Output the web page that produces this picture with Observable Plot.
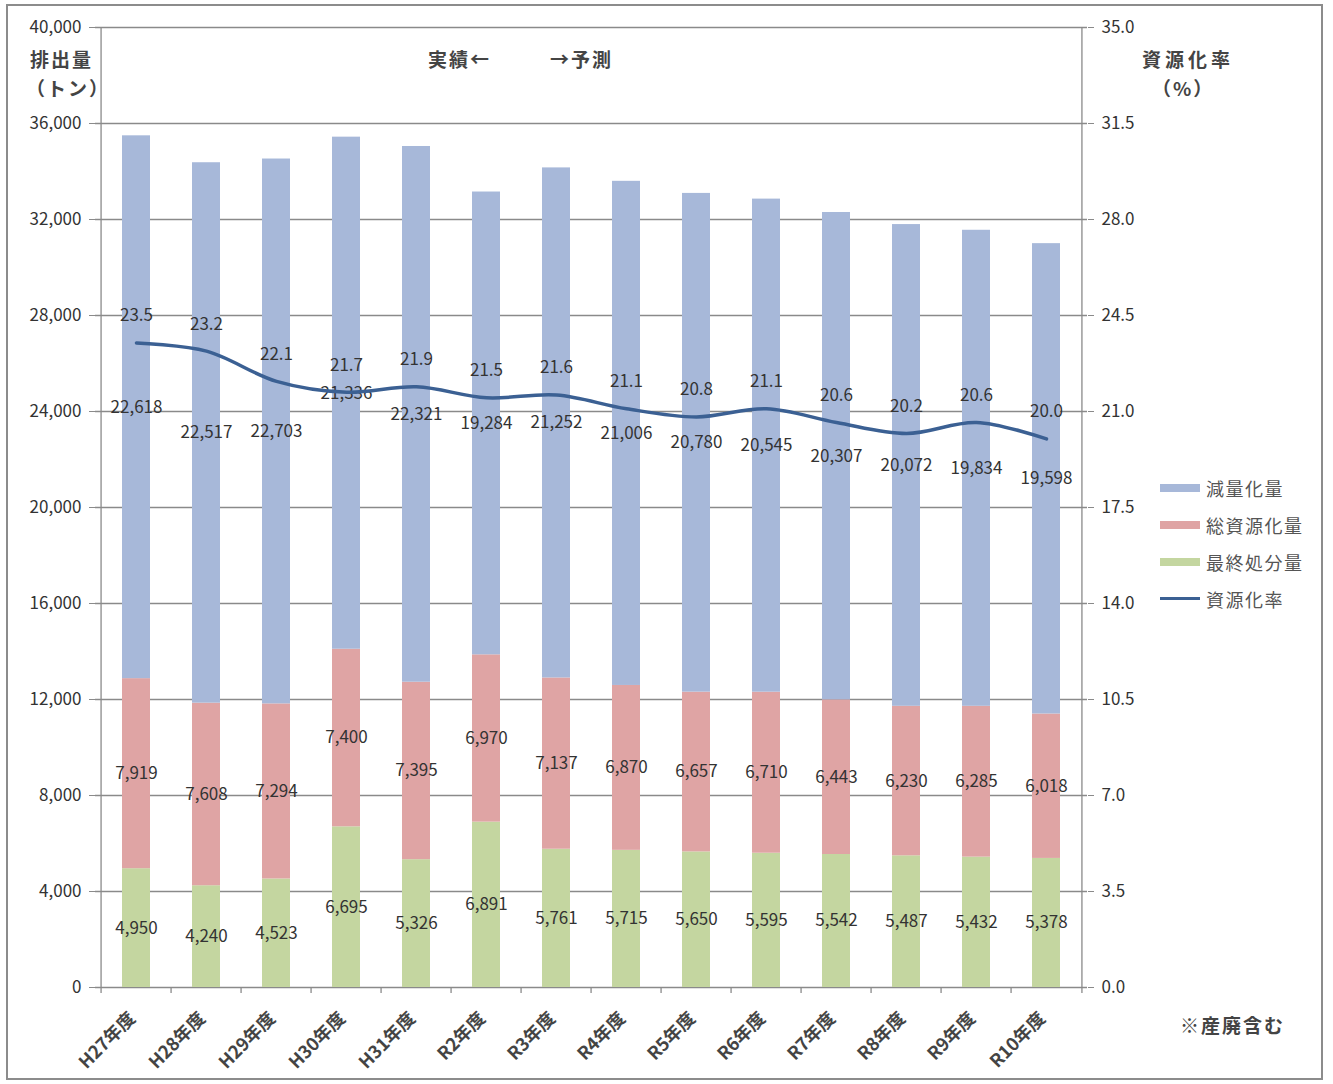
<!DOCTYPE html>
<html lang="ja">
<head>
<meta charset="utf-8">
<script src="https://cdn.jsdelivr.net/npm/d3@7"></script>
<script src="https://cdn.jsdelivr.net/npm/@observablehq/plot@0.6"></script>
<style>
  html, body { margin: 0; padding: 0; background: #fff; }
  #wrap { position: relative; width: 1333px; height: 1084px; font-family: "Noto Sans CJK JP", "Noto Sans", sans-serif; color: #333; }
  #frame { position: absolute; left: 6px; top: 4px; width: 1317px; height: 1076px; border: 2px solid #8c8c8c; box-sizing: border-box; pointer-events: none; }
  .note { position: absolute; font-size: 19px; letter-spacing: 2px; font-weight: bold; color: #444; white-space: nowrap; line-height: 1; }
  .legend { position: absolute; left: 1160px; top: 469px; font-size: 18px; letter-spacing: 1.5px; color: #555; }
  .legend .row { display: flex; align-items: center; height: 37px; }
  .legend .sw { width: 40px; height: 8px; margin-right: 6px; }
  .legend .ln { width: 40px; height: 3px; margin-right: 6px; }
</style>
</head>
<body>
<div id="wrap">
  <div id="chart"></div>
  <div class="note" style="left:30px; top:49px;">排出量</div>
  <div class="note" style="left:26px; top:78px;">（トン）</div>
  <div class="note" style="left:1142px; top:49px; letter-spacing: 4px;">資源化率</div>
  <div class="note" style="left:1152px; top:78px;">（%）</div>
  <div class="note" style="left:428px; top:49px;">実績←</div>
  <div class="note" style="left:550px; top:49px;">→予測</div>
  <div class="note" style="left:1180px; top:1015px;">※産廃含む</div>
  <div class="legend" id="legend"></div>
  <div id="frame"></div>
</div>
<script>
// Fiscal years
const years = ["H27年度","H28年度","H29年度","H30年度","H31年度","R2年度","R3年度","R4年度","R5年度","R6年度","R7年度","R8年度","R9年度","R10年度"];
// 最終処分量 (t)
const finalDisposal = [4950, 4240, 4523, 6695, 5326, 6891, 5761, 5715, 5650, 5595, 5542, 5487, 5432, 5378];
// 総資源化量 (t)
const totalRecycled = [7919, 7608, 7294, 7400, 7395, 6970, 7137, 6870, 6657, 6710, 6443, 6230, 6285, 6018];
// 減量化量 (t)
const reduction = [22618, 22517, 22703, 21336, 22321, 19284, 21252, 21006, 20780, 20545, 20307, 20072, 19834, 19598];
// 資源化率 (%)
const recyclingRate = [23.5, 23.2, 22.1, 21.7, 21.9, 21.5, 21.6, 21.1, 20.8, 21.1, 20.6, 20.2, 20.6, 20.0];

const seriesNames = ["最終処分量", "総資源化量", "減量化量"];
const seriesColors = ["#c4d6a0", "#dfa4a4", "#a7b8d9"];
const lineColor = "#3b6093";

const yMax = 40000;       // left axis (t)
const rateMax = 35;       // right axis (%)
const toLeft = r => r * yMax / rateMax;
const yTicks = d3.range(0, yMax + 1, 4000);

// long table for stacking (bottom to top)
const stacked = [];
years.forEach((yr, i) => {
  [finalDisposal[i], totalRecycled[i], reduction[i]].forEach((v, k) => {
    stacked.push({year: yr, series: seriesNames[k], value: v});
  });
});
const rates = years.map((yr, i) => ({year: yr, rate: recyclingRate[i], yv: toLeft(recyclingRate[i])}));

const W = 1333, H = 1084;
const mL = 95, mR = 246, mT = 27, mB = 97;
const step = (W - mL - mR) / years.length;

const font = "Noto Sans CJK JP, Noto Sans, sans-serif";
const gridColor = "#8a8a8a";
const labelSize = 17;

const chart = Plot.plot({
  width: W,
  height: H,
  marginLeft: mL,
  marginRight: mR,
  marginTop: mT,
  marginBottom: mB,
  style: {fontFamily: font, fontSize: "17px", color: "#333", background: "transparent", overflow: "visible"},
  x: {type: "band", domain: years, paddingInner: 0.6, paddingOuter: 0.3, label: null},
  y: {domain: [0, yMax], label: null},
  color: {domain: seriesNames, range: seriesColors},
  marks: [
    // horizontal gridlines
    Plot.ruleY(yTicks, {stroke: gridColor, strokeWidth: 1.3}),
    // stacked bars
    Plot.barY(stacked, Plot.stackY({x: "year", y: "value", z: "series", fill: "series", order: seriesNames})),
    // segment value labels
    Plot.text(stacked, Plot.stackY({x: "year", y: "value", z: "series", order: seriesNames,
      text: d => d3.format(",")(d.value), fill: "#333", fontSize: labelSize})),
    // recycling rate line
    Plot.line(rates, {x: "year", y: "yv", stroke: lineColor, strokeWidth: 3.5, curve: "catmull-rom"}),
    Plot.text(rates, {x: "year", y: "yv", text: d => d.rate.toFixed(1), dy: -27, fill: "#333", fontSize: labelSize}),
    // axis frame lines
    Plot.ruleX([years[0]], {dx: -step / 2, y1: 0, y2: yMax, stroke: gridColor, strokeWidth: 1.3}),
    Plot.ruleX([years[years.length - 1]], {dx: step / 2, y1: 0, y2: yMax, stroke: gridColor, strokeWidth: 1.3}),
    // category boundary ticks
    Plot.ruleX(years, {dx: -step / 2, y1: 0, y2: -250, stroke: gridColor, strokeWidth: 1.3}),
    Plot.ruleX([years[years.length - 1]], {dx: step / 2, y1: 0, y2: -250, stroke: gridColor, strokeWidth: 1.3}),
    // left axis
    Plot.axisY({ticks: yTicks, tickSize: 6, tickPadding: 8, tickFormat: d3.format(","), stroke: gridColor, fontSize: labelSize, label: null}),
    // right axis (percent)
    Plot.axisY({anchor: "right", ticks: yTicks, tickSize: 6, tickPadding: 8, tickFormat: d => (d * rateMax / yMax).toFixed(1), stroke: gridColor, fontSize: labelSize, label: null}),
    // category labels
    Plot.axisX({tickSize: 0, tickRotate: -45, tickPadding: 28, dx: -4, fontSize: 18, fontWeight: "bold", fill: "#444", label: null})
  ]
});
document.getElementById("chart").appendChild(chart);

// legend (top to bottom as in the stack)
const legend = document.getElementById("legend");
[2, 1, 0].forEach(k => {
  const row = document.createElement("div");
  row.className = "row";
  row.innerHTML = `<div class="sw" style="background:${seriesColors[k]}"></div><span>${seriesNames[k]}</span>`;
  legend.appendChild(row);
});
const lrow = document.createElement("div");
lrow.className = "row";
lrow.innerHTML = `<div class="ln" style="background:${lineColor}"></div><span>資源化率</span>`;
legend.appendChild(lrow);
</script>
</body>
</html>
